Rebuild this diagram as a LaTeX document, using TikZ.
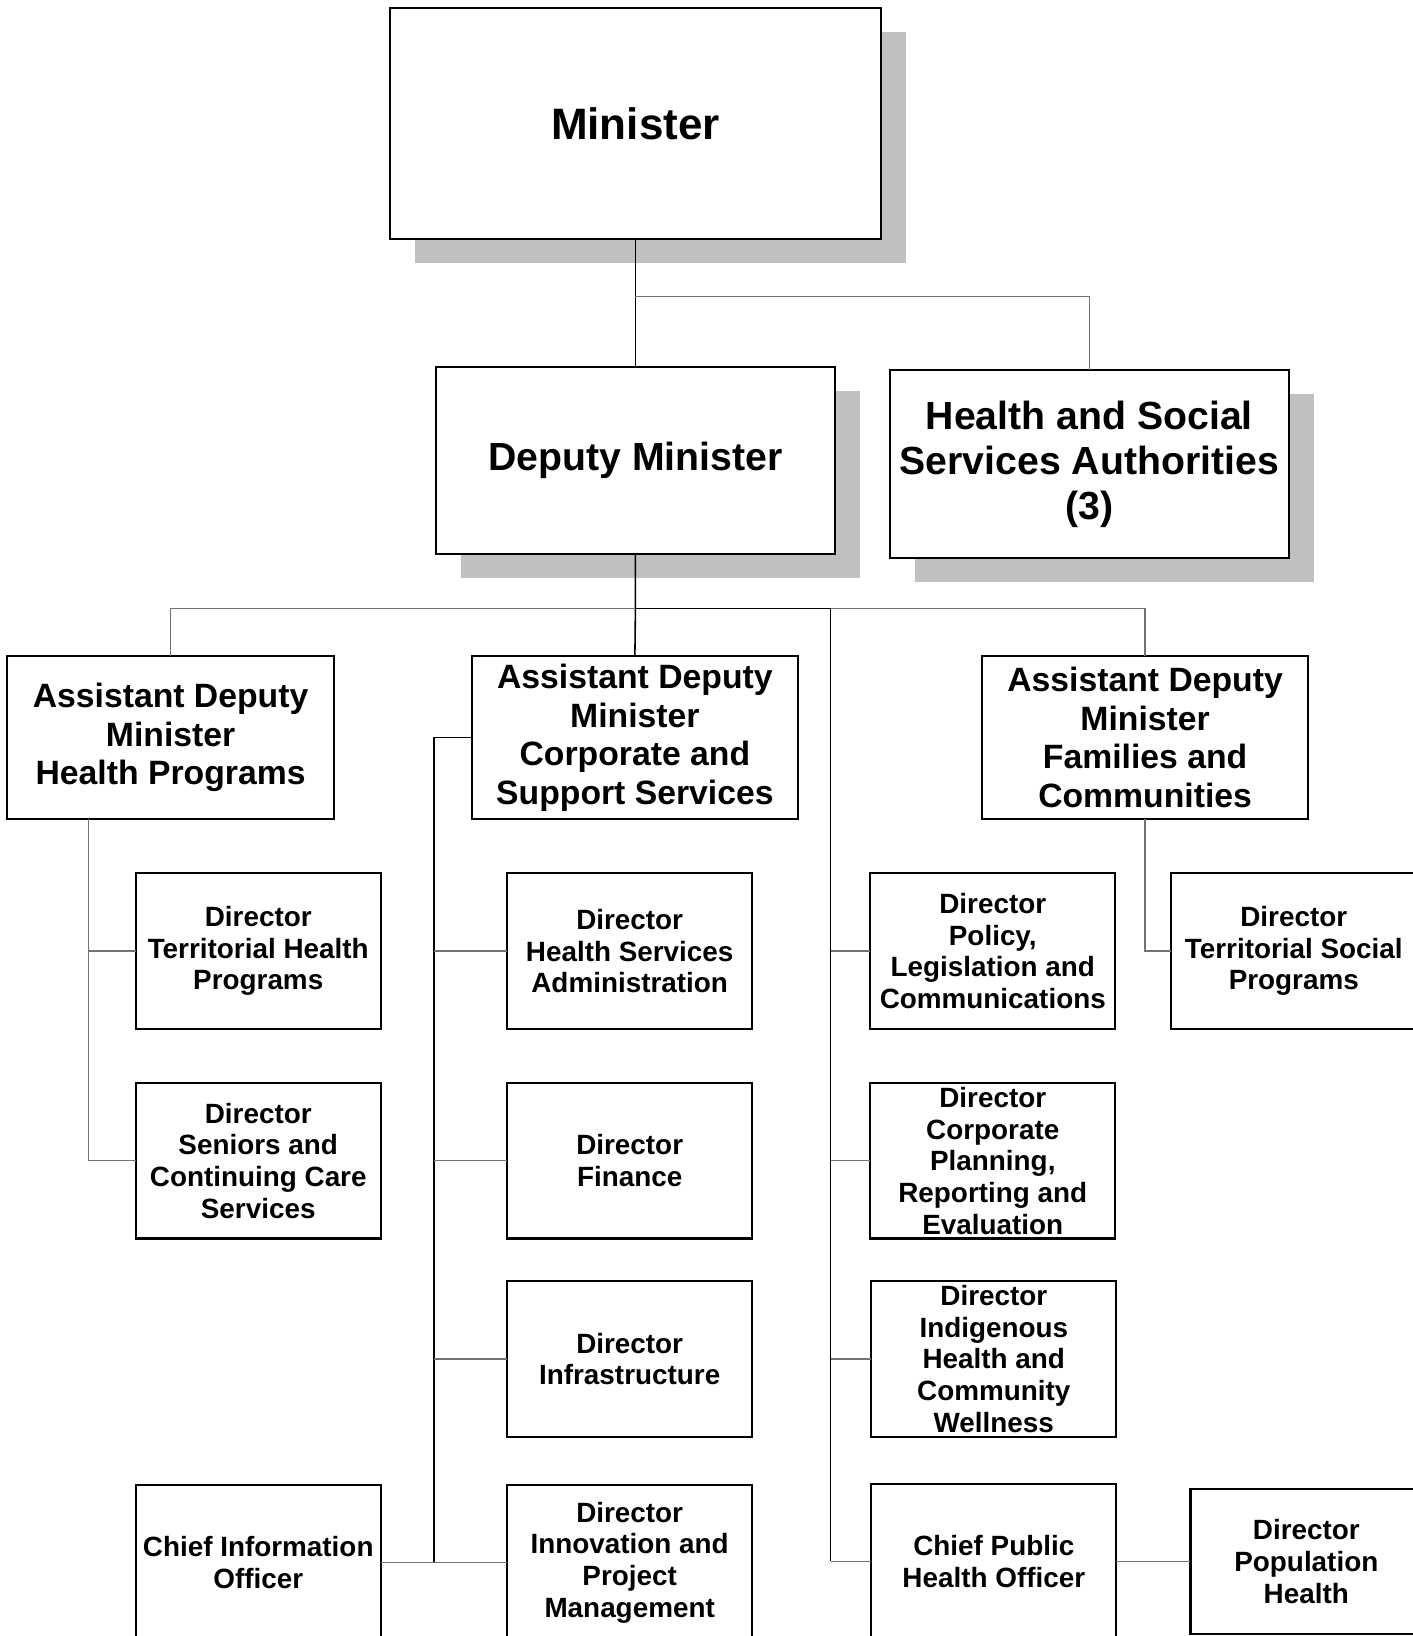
\documentclass[tikz,border=0pt]{standalone}
\usepackage{fontspec}
\setmainfont{Liberation Sans}
\usetikzlibrary{backgrounds}
\definecolor{shadowc}{RGB}{192,192,192}
\definecolor{linegray}{RGB}{115,115,115}
\begin{document}
\begin{tikzpicture}[x=0.02cm,y=-0.02cm,
  box/.style={draw=black,line width=1.1pt,fill=white,rectangle,inner sep=0pt,outer sep=0pt,align=center},
  fbig/.style={font=\fontsize{24}{28}\selectfont\bfseries},
  fmid/.style={font=\fontsize{21.4}{24.7}\selectfont\bfseries},
  fadm/.style={font=\fontsize{18.4}{21}\selectfont\bfseries},
  fdir/.style={font=\fontsize{15.2}{17.3}\selectfont\bfseries},
  dirbox/.style={box,fdir,minimum width=235*0.02cm,minimum height=149*0.02cm},
  admbox/.style={box,fadm,minimum width=313*0.02cm,minimum height=156*0.02cm},
  blk/.style={draw=black,line width=0.85pt},
  gry/.style={draw=linegray,line width=0.75pt},
  shd/.style={fill=shadowc}
]
\useasboundingbox (0,0) rectangle (1354,1568);

% top level
\node[box,fbig,minimum width=470*0.02cm,minimum height=221*0.02cm] (min) at (609,118.5) {Minister};
\node[box,fmid,minimum width=382*0.02cm,minimum height=179*0.02cm] (dm) at (609,441.5) {Deputy Minister};
\node[box,fmid,minimum width=382*0.02cm,minimum height=180*0.02cm] (hssa) at (1044,445) {Health and Social\\Services Authorities\\(3)};

% ADMs
\node[admbox] (adm1) at (163.5,707) {Assistant Deputy\\Minister\\Health Programs};
\node[admbox] (adm2) at (608.5,707) {Assistant Deputy\\Minister\\Corporate and\\Support Services};
\node[admbox] (adm3) at (1097.5,707) {Assistant Deputy\\Minister\\Families and\\Communities};

% directors
\node[dirbox] (dth) at (247.5,911.5) {Director\\Territorial Health\\Programs};
\node[dirbox] (dsen) at (247.5,1112.5) {Director\\Seniors and\\Continuing Care\\Services};
\node[dirbox] (dhsa) at (603.5,911.5) {Director\\Health Services\\Administration};
\node[dirbox] (dfin) at (603.5,1112.5) {Director\\Finance};
\node[dirbox] (dinf) at (603.5,1302.5) {Director\\Infrastructure};
\node[dirbox] (dinn) at (603.5,1497.5) {Director\\Innovation and\\Project\\Management};
\node[dirbox] (cio) at (247.5,1497.5) {Chief Information\\Officer};
\node[dirbox] (dpol) at (951.5,911.5) {Director\\Policy,\\Legislation and\\Communications};
\node[dirbox] (dcp) at (951.5,1112.5) {Director\\Corporate\\Planning,\\Reporting and\\Evaluation};
\node[dirbox] (dind) at (952.5,1302.5) {Director\\Indigenous\\Health and\\Community\\Wellness};
\node[dirbox] (cpho) at (952.5,1496.5) {Chief Public\\Health Officer};
\node[dirbox,minimum width=236*0.02cm] (dtsp) at (1240,911.5) {Director\\Territorial Social\\Programs};
\node[dirbox,minimum width=222*0.02cm,minimum height=139*0.02cm] (dpop) at (1252,1496.5) {Director\\Population\\Health};

% shadows
\begin{scope}[on background layer]
  \fill[white] (0,0) rectangle (1354,1568);
  \foreach \n in {min,dm,hssa}{
    \fill[shd] ([shift={(24,23)}]\n.south west) rectangle ([shift={(24,23)}]\n.north east);
  }
\end{scope}

% junction coordinates
\coordinate (j1) at (609,284);
\coordinate (j2) at (609,583);
\coordinate (j3) at (796,583);
\coordinate (j4) at (796,1496.5);
\coordinate (j5) at (416,707);
\coordinate (k1) at (85,785);

% connectors
\draw[blk] (min.south) -- (dm.north);
\draw[gry] (j1) -| (hssa.north);
\draw[blk] (dm.south) -- (j2) -- (adm2.north);
\draw[gry] (j2) -| (adm1.north);
\draw[blk] (j2) -- (j3);
\draw[gry] (j3) -| (adm3.north);
\draw[blk] (j3) -- (j4);
\draw[gry] (j4) -- (cpho.west);
\draw[gry] (j3 |- dpol.west) -- (dpol.west);
\draw[gry] (j3 |- dcp.west) -- (dcp.west);
\draw[gry] (j3 |- dind.west) -- (dind.west);
\draw[gry] (cpho.east) -- (dpop.west);

\draw[blk] (adm2.west) -- (j5) -- (j5 |- cio.east);
\draw[gry] (j5 |- dhsa.west) -- (dhsa.west);
\draw[gry] (j5 |- dfin.west) -- (dfin.west);
\draw[gry] (j5 |- dinf.west) -- (dinf.west);
\draw[gry] (cio.east) -- (dinn.west);

\draw[gry] (k1) |- (dsen.west);
\draw[gry] (k1 |- dth.west) -- (dth.west);

\draw[gry] (adm3.south) |- (dtsp.west);
\end{tikzpicture}
\end{document}
